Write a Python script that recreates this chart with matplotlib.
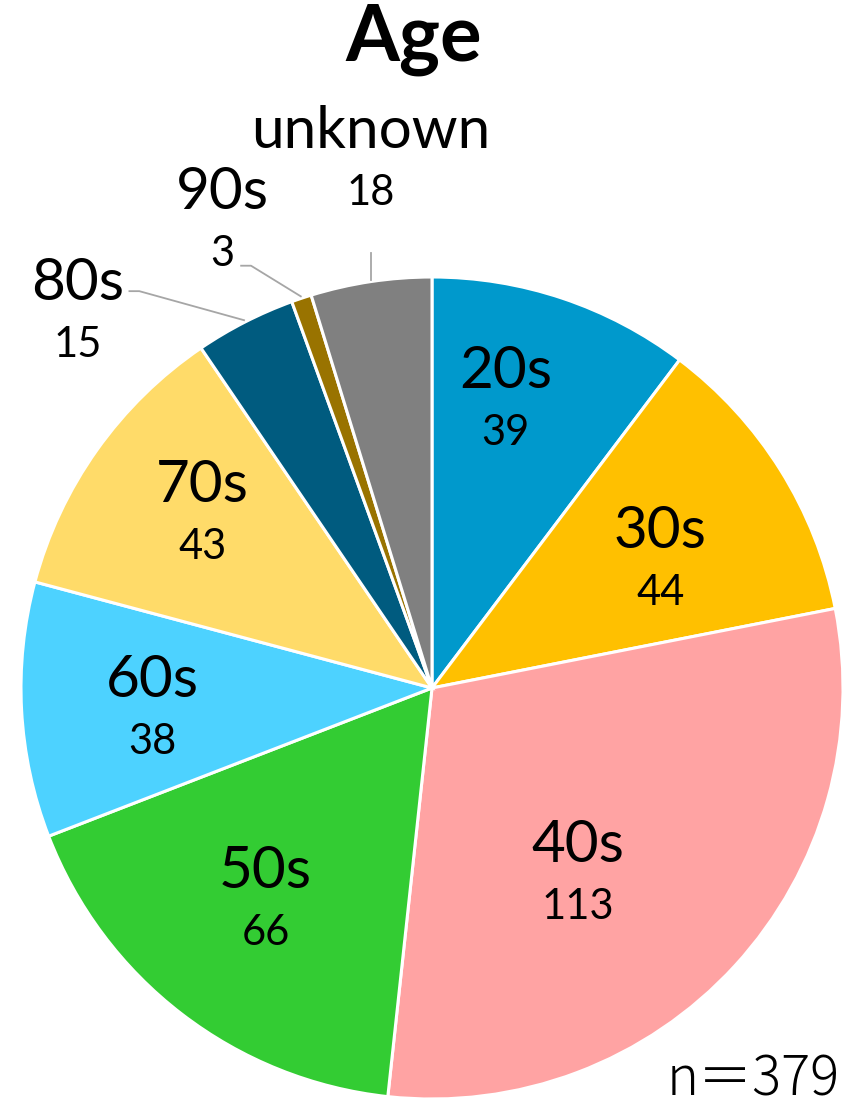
import numpy as np
import matplotlib
matplotlib.use("Agg")
import matplotlib.pyplot as plt

categories = ["20s", "30s", "40s", "50s", "60s", "70s", "80s", "90s", "unknown"]
counts = [39, 44, 113, 66, 38, 43, 15, 3, 18]
colors = ["#0099CC", "#FFC000", "#FFA3A3", "#33CC33", "#4DD2FF",
          "#FFDB69", "#005B7F", "#997300", "#808080"]
title = "Age"
total_label = "n＝379"

# label placement: (radius factor, angle offset deg, outside?)
label_r = [0.72, 0.635, 0.577, 0.657, 0.683, 0.70, 1.254, 1.244, 1.29]
label_dt = [4.1, -3.0, -9.5, -0.5, 1.4, -1.6, 16.3, 5.7, -1.9]
outside = [False] * 6 + [True] * 3

W, H = 851, 1108
fig = plt.figure(figsize=(W / 100, H / 100), dpi=100)
cx, cy, R = 432, 688, 411
ax = fig.add_axes([(cx - R) / W, (H - cy - R) / H, 2 * R / W, 2 * R / H])

wedges, _ = ax.pie(counts, colors=colors, startangle=90, counterclock=False,
                   radius=1.0, wedgeprops=dict(edgecolor="white", linewidth=2.2))
ax.set_xlim(-1, 1)
ax.set_ylim(-1, 1)
ax.set_aspect("equal")
ax.axis("off")
for w in wedges:
    w.set_clip_on(False)

fam = ["Lato", "DejaVu Sans"]
for i, w in enumerate(wedges):
    mid = np.deg2rad((w.theta1 + w.theta2) / 2)
    ang = mid + np.deg2rad(label_dt[i])
    lx, ly = label_r[i] * np.cos(ang), label_r[i] * np.sin(ang)
    ax.text(lx, ly + 0.072, categories[i], ha="center", va="center",
            fontsize=42, family=fam, clip_on=False)
    ax.text(lx, ly - 0.078, str(counts[i]), ha="center", va="center",
            fontsize=30, family=fam, clip_on=False)
    if outside[i]:
        sx, sy = 1.005 * np.cos(mid), 1.005 * np.sin(mid)
        if categories[i] == "unknown":
            ax.plot([sx, sx], [sy, sy + 0.065], color="#A6A6A6", lw=1.3,
                    clip_on=False)
        else:
            if categories[i] == "80s":
                ex, ey = lx + 0.125, ly + 0.054
            else:
                ex, ey = lx + 0.046, ly - 0.107
            ax.plot([ex, ex + 0.024, sx], [ey, ey, sy], color="#A6A6A6",
                    lw=1.3, clip_on=False)

fig.text(414 / W, 1 - 40 / H, title, ha="center", va="center",
         fontsize=56, fontweight="bold", family=fam)
fig.text(840 / W, 1 - 1080 / H, total_label, ha="right", va="center",
         fontsize=39, fontweight="light",
         family=["Noto Sans CJK JP", "DejaVu Sans"])

fig.savefig("out.png", dpi=100)
